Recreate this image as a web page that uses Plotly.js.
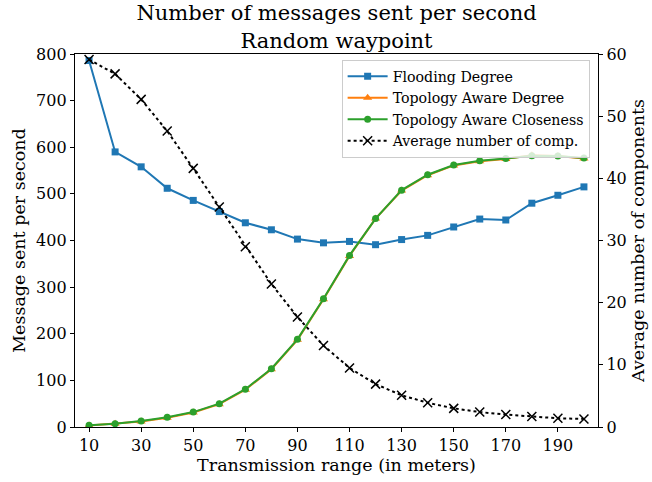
<!DOCTYPE html>
<html>
<head>
<meta charset="utf-8">
<script src="https://cdn.plot.ly/plotly-3.0.1.min.js"></script>
<style>html,body{margin:0;padding:0;background:#fff;}#chart{width:652px;height:482px;}</style>
</head>
<body>
<div id="chart"></div>
<script>
const ranges = [10,20,30,40,50,60,70,80,90,100,110,120,130,140,150,160,170,180,190,200];
const floodingDegree = [786,590,558,512,486,462,438,423,403,395,398,391,402,411,429,446,444,480,497,515];
const topoAwareDegree = [3,7,12,20,31,49,80,124,187,274,367,447,507,540,561,570,575,583,581,576];
const topoAwareCloseness = [4,7,13,21,32,50,81,125,188,275,368,447,508,541,562,571,576,582,581,577];
const avgComponents = [59.1,56.8,52.7,47.6,41.6,35.4,29.0,23.0,17.7,13.1,9.5,6.9,5.1,3.9,3.0,2.4,2.0,1.7,1.4,1.3];
const xTicks = [10,30,50,70,90,110,130,150,170,190];

const serif = "DejaVu Serif, serif";
const traces = [
  {x: ranges, y: floodingDegree, name: "Flooding Degree", type: "scatter", mode: "lines+markers",
   line: {color: "#1f77b4", width: 2}, marker: {symbol: "square", size: 7, color: "#1f77b4"}},
  {x: ranges, y: topoAwareDegree, name: "Topology Aware Degree", type: "scatter", mode: "lines+markers",
   line: {color: "#ff7f0e", width: 2}, marker: {symbol: "triangle-up", size: 8, color: "#ff7f0e"}},
  {x: ranges, y: topoAwareCloseness, name: "Topology Aware Closeness", type: "scatter", mode: "lines+markers",
   line: {color: "#2ca02c", width: 2}, marker: {symbol: "circle", size: 7, color: "#2ca02c"}},
  {x: ranges, y: avgComponents, name: "Average number of comp.", type: "scatter", mode: "lines+markers", yaxis: "y2",
   line: {color: "#000000", width: 2, dash: "dot"}, marker: {symbol: "x-thin-open", size: 9, color: "#000000", line: {width: 1.5, color: "#000000"}}}
];

const layout = {
  width: 652, height: 482,
  margin: {l: 75, r: 54, t: 54, b: 55},
  paper_bgcolor: "#fff", plot_bgcolor: "#fff",
  font: {family: serif, size: 16, color: "#000"},
  title: {text: "Number of messages sent per second<br>Random waypoint", x: 0.5, xref: "paper", xanchor: "center",
          yref: "container", y: 0.958, yanchor: "middle",
          font: {family: serif, size: 21, color: "#000"}},
  xaxis: {range: [4.6, 205.4], tickvals: xTicks, ticktext: xTicks.map(String), showgrid: false, zeroline: false,
          showline: true, linecolor: "#000", linewidth: 1.2, mirror: true, ticks: "outside", ticklen: 4, tickcolor: "#000",
          tickfont: {family: serif, size: 16},
          title: {text: "Transmission range (in meters)", font: {family: serif, size: 17.5}, standoff: 4}},
  yaxis: {range: [0, 800], dtick: 100, showgrid: false, zeroline: false, showline: true, linecolor: "#000", linewidth: 1.2,
          ticks: "outside", ticklen: 4, tickcolor: "#000", tickfont: {family: serif, size: 16},
          title: {text: "Message sent per second", font: {family: serif, size: 17.5}, standoff: 6}},
  yaxis2: {range: [0, 60], dtick: 10, overlaying: "y", side: "right", showgrid: false, zeroline: false, showline: true,
           linecolor: "#000", linewidth: 1.2, ticks: "outside", ticklen: 4, tickcolor: "#000", tickfont: {family: serif, size: 16},
           title: {text: "Average number of components", font: {family: serif, size: 17.5}, standoff: 6}},
  legend: {x: 0.984, xanchor: "right", y: 0.985, yanchor: "top", bgcolor: "rgba(255,255,255,0.8)", bordercolor: "#cccccc",
           borderwidth: 1, font: {family: serif, size: 14.2}, tracegroupgap: 0, itemwidth: 40},
  showlegend: true
};
Plotly.newPlot("chart", traces, layout, {displayModeBar: false, staticPlot: true});
</script>
</body>
</html>
